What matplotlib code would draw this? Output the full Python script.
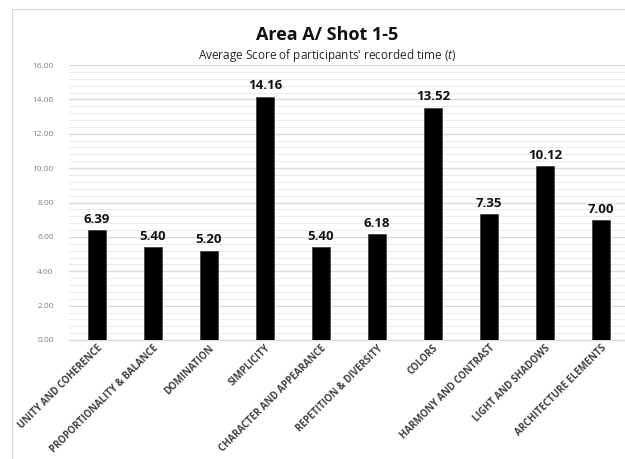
import numpy as np
import matplotlib.pyplot as plt
from matplotlib.patches import Rectangle
from matplotlib.ticker import MultipleLocator

categories = [
    "UNITY AND COHERENCE",
    "PROPORTIONALITY & BALANCE",
    "DOMINATION",
    "SIMPLICITY",
    "CHARACTER AND APPEARANCE",
    "REPETITION & DIVERSITY",
    "COLORS",
    "HARMONY AND CONTRAST",
    "LIGHT AND SHADOWS",
    "ARCHITECTURE ELEMENTS",
]
scores = [6.39, 5.40, 5.20, 14.16, 5.40, 6.18, 13.52, 7.35, 10.12, 7.00]

plt.rcParams['font.family'] = ['Open Sans', 'DejaVu Sans']
plt.rcParams['mathtext.fontset'] = 'custom'
plt.rcParams['mathtext.it'] = 'Open Sans:italic'
plt.rcParams['mathtext.rm'] = 'Open Sans'

fig = plt.figure(figsize=(6.25, 4.59), dpi=100)
fig.patch.set_facecolor('white')

# chart border (the chart box runs off the right/bottom edge of the picture)
fig.patches.append(Rectangle((12 / 625, -0.1), 1.0, 1.1 - 9 / 459,
                             transform=fig.transFigure, fill=False,
                             edgecolor='#d9d9d9', linewidth=0.8))

ax = fig.add_axes([69 / 625, 119 / 459, 560 / 625, 275 / 459])
x = np.arange(len(categories))
ax.bar(x, scores, width=0.32, color='black', edgecolor='#3a3a3a', linewidth=0.5, zorder=3)

for xi, v in zip(x, scores):
    ax.annotate(f"{v:.2f}", (xi, v), xytext=(0, 3), textcoords='offset points',
                ha='center', va='bottom', fontsize=9.5, fontweight='bold', color='#111111')

ax.set_xlim(-0.5, len(categories) - 0.5)
ax.set_ylim(0, 16)
ax.yaxis.set_minor_locator(MultipleLocator(0.4))
ax.set_yticks(np.arange(0, 17, 2))
ax.set_yticklabels([f"{t:.2f}" for t in np.arange(0, 17, 2)], fontsize=6, color='#7f7f7f')
ax.grid(axis='y', which='major', color='#d9d9d9', linewidth=0.9, zorder=0)
ax.grid(axis='y', which='minor', color='#ececec', linewidth=0.7, zorder=0)
ax.tick_params(axis='y', which='both', length=0, pad=11)
ax.tick_params(axis='x', length=0, pad=2)
ax.set_xticks(x)
ax.set_xticklabels(categories, rotation=45, ha='right', rotation_mode='anchor',
                   fontsize=6.9, fontweight='bold', color='#404040')
for s in ax.spines.values():
    s.set_visible(False)
ax.spines['bottom'].set_visible(True)
ax.spines['bottom'].set_color('#d9d9d9')

fig.text(327 / 625, 1 - 35 / 459, "Area A/ Shot 1-5", ha='center', va='center',
         fontsize=13, fontweight='bold', color='#111111')
fig.text(327 / 625, 1 - 55 / 459, "Average Score of participants' recorded time $\\mathit{(t)}$",
         ha='center', va='center', fontsize=8.5, color='#262626')

fig.savefig("out.png", dpi=100)
